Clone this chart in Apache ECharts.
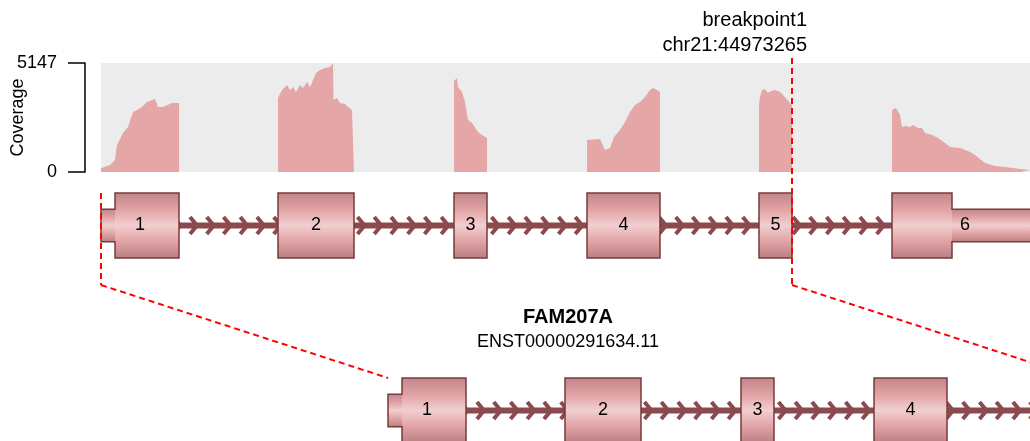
<!DOCTYPE html>
<html>
<head>
<meta charset="utf-8">
<script src="https://cdn.jsdelivr.net/npm/echarts@6/dist/echarts.min.js"></script>
<style>
  html, body { margin: 0; padding: 0; background: #fff; }
  #chart { width: 1030px; height: 441px; }
</style>
</head>
<body>
<div id="chart"></div>
<script>
// transcript in squished plot units (introns shortened, 1 unit ~ 1 px)
const exonNumbers = [1, 2, 3, 4, 5, 6];
const exonStarts = [0, 177, 353, 486, 658, 791];
const exonEnds = [78, 253, 386, 559, 691, 937];
const cdsStart = 14;
const cdsEnd = 851;
const breakpoint = 691;
const geneName = "FAM207A";
const transcriptId = "ENST00000291634.11";
const breakpointName = "breakpoint1";
const breakpointPos = "chr21:44973265";
const coverageMax = 5147;

// coverage per exon: [position, reads]
const coverageExon1 = [[0, 175], [9, 330], [14, 566], [16, 1274], [22, 1841], [27, 2124], [32, 2832], [36, 2926], [41, 3068], [46, 3304], [54, 3446], [57, 3068], [62, 3068], [71, 3257], [78, 3257]];
const coverageExon2 = [[177, 3493], [181, 3870], [186, 4106], [189, 3870], [192, 4012], [195, 3776], [199, 4106], [202, 3965], [206, 4248], [209, 4012], [211, 4201], [212, 4342], [215, 4673], [219, 4814], [224, 4909], [229, 4956], [232, 5147], [232.5, 3398], [236, 3493], [239, 3257], [244, 3210], [247, 3068], [251, 2926], [253, 2832]];
const coverageExon3 = [[353, 4295], [356, 4437], [357, 4012], [361, 3776], [364, 3304], [367, 2454], [371, 2313], [377, 1888], [381, 1746], [386, 1605]];
const coverageExon4 = [[486, 1510], [499, 1558], [501, 1510], [504, 1038], [506, 991], [509, 1133], [513, 1652], [519, 1982], [524, 2360], [529, 2832], [534, 3162], [539, 3304], [544, 3540], [549, 3870], [552, 3965], [556, 3870], [559, 3776]];
const coverageExon5 = [[658, 3162], [659, 3540], [661, 3870], [664, 3918], [667, 3729], [670, 3823], [674, 3870], [679, 3776], [684, 3540], [689, 3257], [691, 3162]];
const coverageExon6 = [[791, 2926], [795, 3021], [799, 2690], [801, 2124], [804, 2171], [809, 2124], [812, 2218], [817, 2077], [821, 2077], [824, 1841], [831, 1746], [837, 1605], [844, 1369], [849, 1180], [859, 1133], [869, 944], [874, 802], [884, 425], [894, 283], [904, 236], [919, 142], [929, 94]];

const FONT = "Liberation Sans, Arial, sans-serif";
const INTRON_COLOR = "#8b4a4d";
const EXON_BORDER = "#7a3a3d";

const chart = echarts.init(document.getElementById("chart"));

const exonGradient = () =>
  new echarts.graphic.LinearGradient(0, 0, 0, 1, [
    { offset: 0, color: "#c0878a" },
    { offset: 0.25, color: "#e1a2a4" },
    { offset: 0.5, color: "#f1cfd0" },
    { offset: 0.75, color: "#e1a2a4" },
    { offset: 1, color: "#b98084" },
  ]);

const renderExon = (params, api) => {
  const s = api.value(0),
    e = api.value(1),
    n = api.value(2);
  const cs = Math.max(s, cdsStart),
    ce = Math.min(e, cdsEnd);
  const P = (x, y) => api.coord([x, y]);
  const box = (x0, x1, yTop, yBot) => {
    const a = P(x0, yTop),
      b = P(x1, yBot);
    return {
      type: "rect",
      shape: { x: a[0], y: a[1], width: b[0] - a[0], height: b[1] - a[1] },
      style: { fill: exonGradient() },
    };
  };
  const children = [];
  if (cs > s) children.push(box(s, cs, 0.75, 0.25));
  if (ce < e) children.push(box(ce, e, 0.75, 0.25));
  children.push(box(cs, ce, 1, 0));

  // outline of the whole exon (coding + utr parts)
  let pts = [P(cs, 1), P(ce, 1)];
  if (ce < e) pts.push(P(ce, 0.75), P(e, 0.75), P(e, 0.25), P(ce, 0.25));
  pts.push(P(ce, 0), P(cs, 0));
  if (cs > s) pts.push(P(cs, 0.25), P(s, 0.25), P(s, 0.75), P(cs, 0.75));
  children.push({
    type: "polygon",
    shape: { points: pts },
    style: { fill: null, stroke: EXON_BORDER, lineWidth: 1.5 },
  });
  const c = P((s + e) / 2, 0.5);
  children.push({
    type: "text",
    x: c[0],
    y: c[1],
    style: {
      text: String(n),
      fontSize: 18,
      fontFamily: FONT,
      fill: "#000",
      align: "center",
      verticalAlign: "middle",
    },
  });
  return { type: "group", children };
};

const renderIntron = (params, api) => {
  const a = api.coord([api.value(0), 0.5]),
    b = api.coord([api.value(1), 0.5]);
  const children = [
    {
      type: "line",
      shape: { x1: a[0], y1: a[1], x2: b[0], y2: b[1] },
      style: { stroke: INTRON_COLOR, lineWidth: 6 },
    },
  ];
  // strand arrows, evenly spaced along the transcript
  for (let tip = a[0] + 12.25; tip < b[0]; tip += 16.75) {
    children.push({
      type: "polyline",
      shape: { points: [[tip - 7, a[1] - 8.5], [tip, a[1]], [tip - 7, a[1] + 8.5]] },
      style: { stroke: INTRON_COLOR, lineWidth: 4, fill: null, lineJoin: "miter" },
    });
  }
  return { type: "group", children };
};

const exonData = exonNumbers.map((n, i) => [exonStarts[i], exonEnds[i], n]);
const exonData5p = exonData.filter((d) => d[0] < breakpoint).map((d) => [d[0], Math.min(d[1], breakpoint), d[2]]);

const coverageSeries = [coverageExon1, coverageExon2, coverageExon3, coverageExon4, coverageExon5, coverageExon6].map((d) => ({
  type: "line",
  xAxisIndex: 0,
  yAxisIndex: 0,
  data: d,
  symbol: "none",
  silent: true,
  lineStyle: { width: 0 },
  areaStyle: { color: "#e4a6a7", opacity: 1 },
}));

const noBounds = { containLabel: false, outerBoundsMode: "none" };

const getOption = () => {
  return {
    animation: false,
    grid: [
      { left: 101, right: 0, top: 63, height: 109, show: true, backgroundColor: "#ececec", borderWidth: 0, ...noBounds },
      { left: 101, right: 0, top: 193, height: 65, ...noBounds },
      { left: 101, right: 0, top: 378, height: 65, ...noBounds },
      // holds only the coverage axis, set a bit left of the plot
      { left: 85, width: 1, top: 63, height: 109, ...noBounds },
    ],
    xAxis: [
      { gridIndex: 0, type: "value", min: 0, max: 929, show: false },
      { gridIndex: 1, type: "value", min: 0, max: 929, show: false },
      { gridIndex: 2, type: "value", min: -287, max: 642, show: false },
      { gridIndex: 3, type: "value", min: 0, max: 1, show: false },
    ],
    yAxis: [
      { gridIndex: 0, type: "value", min: 0, max: coverageMax, show: false },
      { gridIndex: 1, type: "value", min: 0, max: 1, show: false },
      { gridIndex: 2, type: "value", min: 0, max: 1, show: false },
      {
        gridIndex: 3,
        type: "value",
        min: 0,
        max: coverageMax,
        interval: coverageMax,
        position: "left",
        name: "Coverage",
        nameLocation: "middle",
        nameGap: 58,
        nameMoveOverlap: false,
        nameTextStyle: { fontSize: 18, fontFamily: FONT, color: "#000" },
        axisLine: { show: true, lineStyle: { color: "#000", width: 1.5 } },
        axisTick: { show: true, length: 17, lineStyle: { color: "#000", width: 1.5 } },
        axisLabel: { fontSize: 18, fontFamily: FONT, color: "#000", margin: 28, formatter: (v) => String(v) },
        splitLine: { show: false },
      },
    ],
    series: [
      ...coverageSeries,
      {
        type: "custom",
        xAxisIndex: 1,
        yAxisIndex: 1,
        z: 2,
        silent: true,
        renderItem: renderIntron,
        data: [[exonStarts[0], exonEnds[exonEnds.length - 1]]],
      },
      {
        type: "custom",
        xAxisIndex: 1,
        yAxisIndex: 1,
        z: 3,
        silent: true,
        renderItem: renderExon,
        data: exonData,
      },
      {
        type: "custom",
        xAxisIndex: 2,
        yAxisIndex: 2,
        z: 2,
        silent: true,
        renderItem: renderIntron,
        data: [[exonStarts[0], breakpoint]],
      },
      {
        type: "custom",
        xAxisIndex: 2,
        yAxisIndex: 2,
        z: 3,
        silent: true,
        renderItem: renderExon,
        data: exonData5p,
      },
    ],
  };
};

chart.setOption(getOption());

// breakpoint markers and labels
const px = (grid, x) => chart.convertToPixel({ gridIndex: grid }, [x, 0])[0];
const bpX = px(1, breakpoint),
  startX = px(1, exonStarts[0]),
  bpX2 = px(2, breakpoint),
  startX2 = px(2, exonStarts[0]);
const elbowY = 285,
  lowY = 378;
const dashed = (x1, y1, x2, y2) => ({
  type: "line",
  z: 100,
  silent: true,
  shape: { x1, y1, x2, y2 },
  style: { stroke: "#ff0000", lineWidth: 2, lineDash: [6, 4] },
});
const label = (text, x, y, size, weight, align) => ({
  type: "text",
  z: 100,
  x,
  y,
  style: { text, fontSize: size, fontWeight: weight, fontFamily: FONT, fill: "#000", align, verticalAlign: "middle" },
});

chart.setOption({
  graphic: [
    dashed(bpX, 58, bpX, elbowY),
    dashed(startX, 193, startX, elbowY),
    dashed(startX, elbowY, startX2, lowY),
    dashed(bpX, elbowY, bpX2, lowY),
    label(breakpointName, bpX + 15, 20, 20, "normal", "right"),
    label(breakpointPos, bpX + 15, 45, 20, "normal", "right"),
    label(geneName, 568, 317, 20, "bold", "center"),
    label(transcriptId, 568, 342, 18, "normal", "center"),
  ],
});
</script>
</body>
</html>
